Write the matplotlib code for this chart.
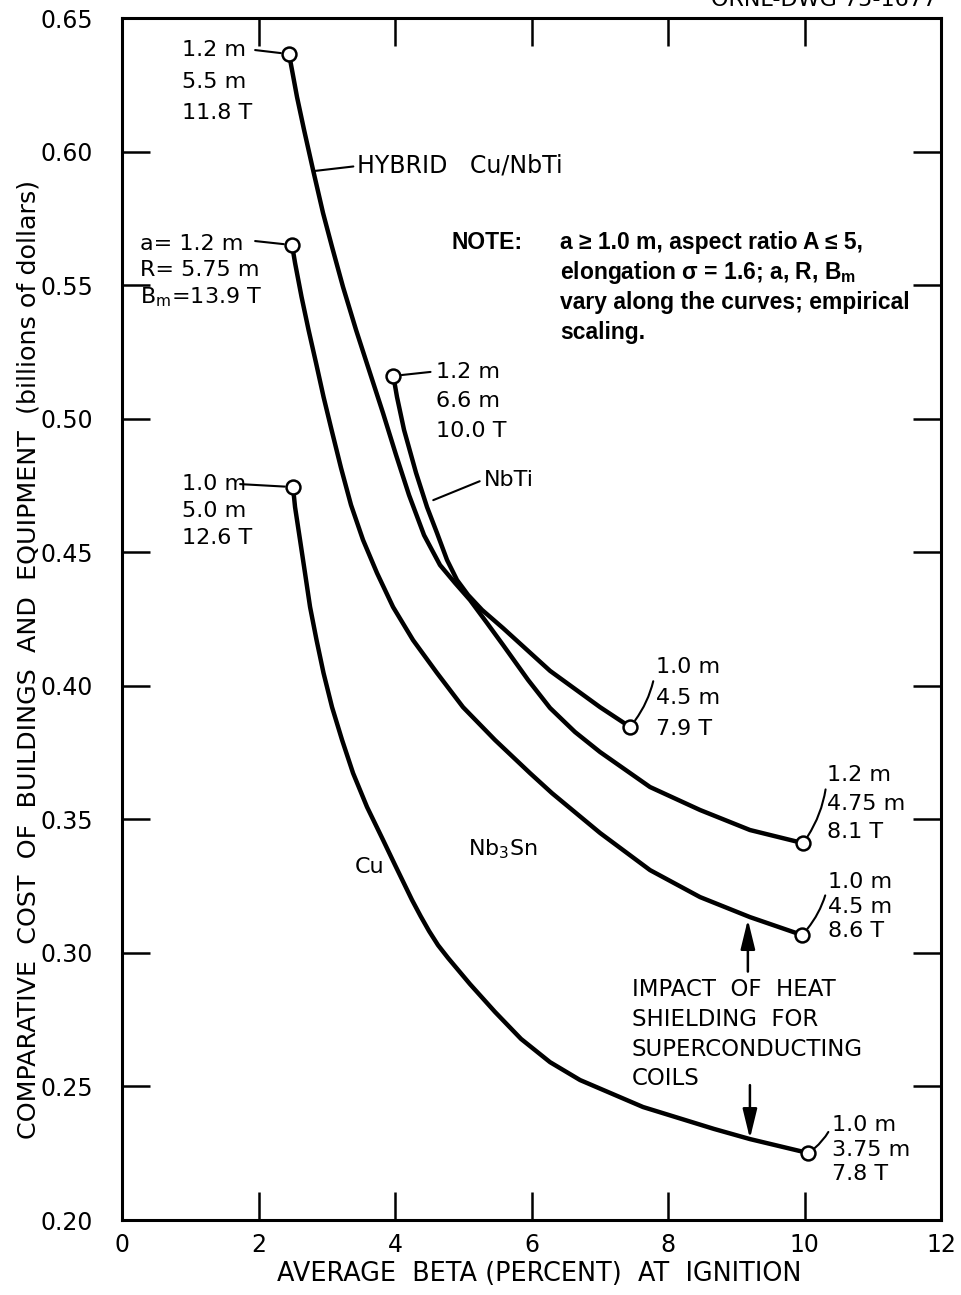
import matplotlib
matplotlib.use("Agg")
import matplotlib.pyplot as plt

### Data ###
# each curve: average beta (percent) vs cost (billions of dollars)
hybrid_x = [2.447, 2.564, 2.667, 2.799, 2.945, 3.077, 3.238, 3.429, 3.619, 3.824, 4.015, 4.205, 4.425,
            4.659, 4.879, 5.099, 5.348, 5.582, 5.949, 6.271, 6.637, 7.004, 7.736, 8.469, 9.201, 9.978]
hybrid_y = [0.6365, 0.6204, 0.6081, 0.5931, 0.5770, 0.5643, 0.5493, 0.5332, 0.5182, 0.5021, 0.4864, 0.4714,
            0.4564, 0.4452, 0.4385, 0.4321, 0.4235, 0.4153, 0.4022, 0.3917, 0.3827, 0.3752, 0.3621, 0.3535,
            0.3460, 0.3411]

nbti_x = [3.975, 4.029, 4.132, 4.308, 4.469, 4.615, 4.762, 4.908, 5.070, 5.275, 5.582, 6.271, 7.004, 7.443]
nbti_y = [0.5160, 0.5081, 0.4958, 0.4797, 0.4669, 0.4572, 0.4471, 0.4396, 0.4340, 0.4284, 0.4216, 0.4056,
          0.3920, 0.3846]

nb3sn_x = [2.491, 2.535, 2.630, 2.733, 2.843, 2.953, 3.070, 3.209, 3.355, 3.531, 3.736, 3.971, 4.264,
           4.615, 4.996, 5.465, 5.978, 6.300, 7.004, 7.736, 8.469, 9.201, 9.963]
nb3sn_y = [0.5650, 0.5583, 0.5456, 0.5332, 0.5208, 0.5081, 0.4958, 0.4815, 0.4677, 0.4546, 0.4422, 0.4295,
           0.4171, 0.4048, 0.3920, 0.3797, 0.3673, 0.3598, 0.3449, 0.3310, 0.3209, 0.3134, 0.3067]

cu_x = [2.505, 2.535, 2.608, 2.681, 2.755, 2.850, 2.952, 3.077, 3.224, 3.385, 3.590, 3.824, 4.000,
        4.249, 4.374, 4.498, 4.630, 4.777, 5.099, 5.465, 5.846, 6.271, 6.711, 7.634, 8.674, 9.201, 10.051]
cu_y = [0.4744, 0.4669, 0.4546, 0.4422, 0.4295, 0.4171, 0.4048, 0.3920, 0.3797, 0.3673, 0.3546, 0.3423,
        0.3329, 0.3198, 0.3138, 0.3082, 0.3029, 0.2981, 0.2883, 0.2779, 0.2678, 0.2591, 0.2524, 0.2423,
        0.2341, 0.2303, 0.2251]

xticks = [0, 2, 4, 6, 8, 10, 12]
yticks = [0.20, 0.25, 0.30, 0.35, 0.40, 0.45, 0.50, 0.55, 0.60, 0.65]

# end point labels (a, R, Bm)
hybrid_start = ["1.2 m", "5.5 m", "11.8 T"]
hybrid_end = ["1.2 m", "4.75 m", "8.1 T"]
nbti_start = ["1.2 m", "6.6 m", "10.0 T"]
nbti_end = ["1.0 m", "4.5 m", "7.9 T"]
nb3sn_start = ["a= 1.2 m", "R= 5.75 m", "B$_\\mathregular{m}$=13.9 T"]
nb3sn_end = ["1.0 m", "4.5 m", "8.6 T"]
cu_start = ["1.0 m", "5.0 m", "12.6 T"]
cu_end = ["1.0 m", "3.75 m", "7.8 T"]

note_lines = ["a \u2265 1.0 m, aspect ratio A \u2264 5,",
              "elongation \u03c3 = 1.6; a, R, B$_\\mathregular{m}$",
              "vary along the curves; empirical",
              "scaling."]

FS = 16
LW = 3.2

fig = plt.figure(figsize=(9.61, 12.95), dpi=100)
ax = fig.add_axes([0.127, 0.0579, 0.8522, 0.9282])

for xs, ys in [(hybrid_x, hybrid_y), (nbti_x, nbti_y), (nb3sn_x, nb3sn_y), (cu_x, cu_y)]:
    ax.plot(xs, ys, color="black", lw=LW, solid_capstyle="round", solid_joinstyle="round", zorder=3)
    ax.plot([xs[0], xs[-1]], [ys[0], ys[-1]], "o", ms=10, mfc="white", mec="black", mew=1.8, zorder=4)

ax.set_xlim(0, 12)
ax.set_ylim(0.20, 0.65)
ax.set_xticks(xticks)
ax.set_yticks(yticks)
ax.set_xticklabels([str(t) for t in xticks], fontsize=FS + 1)
ax.set_yticklabels(["%.2f" % t for t in yticks], fontsize=FS + 1)
ax.tick_params(direction="in", length=20, width=1.8, top=True, right=True)
ax.tick_params(axis="x", pad=9)
ax.tick_params(axis="y", pad=21)
for s in ax.spines.values():
    s.set_linewidth(2.2)

ax.set_xlabel("AVERAGE  BETA (PERCENT)  AT  IGNITION", fontsize=18.4)
ax.xaxis.set_label_coords(0.509, -0.034)
ax.set_ylabel("COMPARATIVE  COST  OF  BUILDINGS  AND  EQUIPMENT  (billions of dollars)", fontsize=18.3)
ax.yaxis.set_label_coords(-0.100, 0.466)


def block(lines, x, y, dy, leader_to, rad=0.0, right_end=None):
    # first line carries the leader line to the circle
    if right_end is not None:
        ax.text(x, y, lines[0], fontsize=FS, va="center", ha="left")
        ax.annotate("", xy=leader_to, xytext=right_end,
                    arrowprops=dict(arrowstyle="-", lw=1.5, shrinkA=0, shrinkB=6,
                                    connectionstyle="arc3,rad=%s" % rad))
    else:
        ax.annotate(lines[0], xy=leader_to, xytext=(x, y), fontsize=FS, va="center", ha="left",
                    arrowprops=dict(arrowstyle="-", lw=1.5, shrinkA=1, shrinkB=6, relpos=(0.0, 0.5),
                                    connectionstyle="arc3,rad=%s" % rad))
    for i, t in enumerate(lines[1:], start=1):
        ax.text(x, y - i * dy, t, fontsize=FS, va="center", ha="left")


# left-hand blocks, leader from end of first line
block(hybrid_start, 0.88, 0.638, 0.0118, (hybrid_x[0], hybrid_y[0]), right_end=(1.95, 0.638))
block(nb3sn_start, 0.26, 0.5655, 0.0100, (nb3sn_x[0], nb3sn_y[0]), right_end=(1.95, 0.5665))
block(cu_start, 0.88, 0.4755, 0.0100, (cu_x[0], cu_y[0]), right_end=(1.73, 0.4755))
block(nbti_start, 4.60, 0.5175, 0.0110, (nbti_x[0], nbti_y[0]), right_end=(4.52, 0.5175))

# right-hand blocks, short curved leaders
block(nbti_end, 7.82, 0.4070, 0.0115, (nbti_x[-1], nbti_y[-1]), rad=-0.15)
block(hybrid_end, 10.33, 0.3665, 0.0107, (hybrid_x[-1], hybrid_y[-1]), rad=-0.15)
block(nb3sn_end, 10.35, 0.3265, 0.0092, (nb3sn_x[-1], nb3sn_y[-1]), rad=-0.15)
block(cu_end, 10.40, 0.2355, 0.0092, (cu_x[-1], cu_y[-1]), rad=-0.15)

# curve names
ax.annotate("HYBRID   Cu/NbTi", xy=(2.81, 0.5927), xytext=(3.45, 0.5946), fontsize=FS + 1, va="center",
            arrowprops=dict(arrowstyle="-", lw=1.5, shrinkA=1, shrinkB=0, relpos=(0.0, 0.5)))
ax.annotate("NbTi", xy=(4.56, 0.4695), xytext=(5.30, 0.4772), fontsize=FS, va="center",
            arrowprops=dict(arrowstyle="-", lw=1.5, shrinkA=1, shrinkB=0, relpos=(0.0, 0.5)))
ax.text(5.58, 0.339, "Nb$_\\mathregular{3}$Sn", fontsize=FS, ha="center", va="center")
ax.text(3.62, 0.332, "Cu", fontsize=FS, ha="center", va="center")

# heat shielding note with arrows
ax.text(7.47, 0.2905, "IMPACT  OF  HEAT\nSHIELDING  FOR\nSUPERCONDUCTING\nCOILS",
        fontsize=FS + 0.5, ha="left", va="top", linespacing=1.37)
ax.annotate("", xy=(9.17, 0.3125), xytext=(9.17, 0.293),
            arrowprops=dict(arrowstyle="-|>,head_length=0.9,head_width=0.22", lw=1.8, color="black",
                            shrinkA=0, shrinkB=0, mutation_scale=20))
ax.annotate("", xy=(9.20, 0.2305), xytext=(9.20, 0.2505),
            arrowprops=dict(arrowstyle="-|>,head_length=0.9,head_width=0.22", lw=1.8, color="black",
                            shrinkA=0, shrinkB=0, mutation_scale=20))

# NOTE block (bold lettering)
note_font = ["Liberation Sans", "DejaVu Sans"]
ax.text(4.83, 0.5658, "NOTE:", fontsize=FS + 0.5, fontweight="bold", family=note_font, va="center")
for i, t in enumerate(note_lines):
    ax.text(6.42, 0.5658 - i * 0.0112, t, fontsize=FS + 0.5, fontweight="bold", family=note_font,
            va="center")

# drawing number, cut off at the top edge
fig.text(0.975, 1.0, "ORNL-DWG 75-1677", fontsize=FS, ha="right", va="center")

fig.savefig("out.png", dpi=100)
